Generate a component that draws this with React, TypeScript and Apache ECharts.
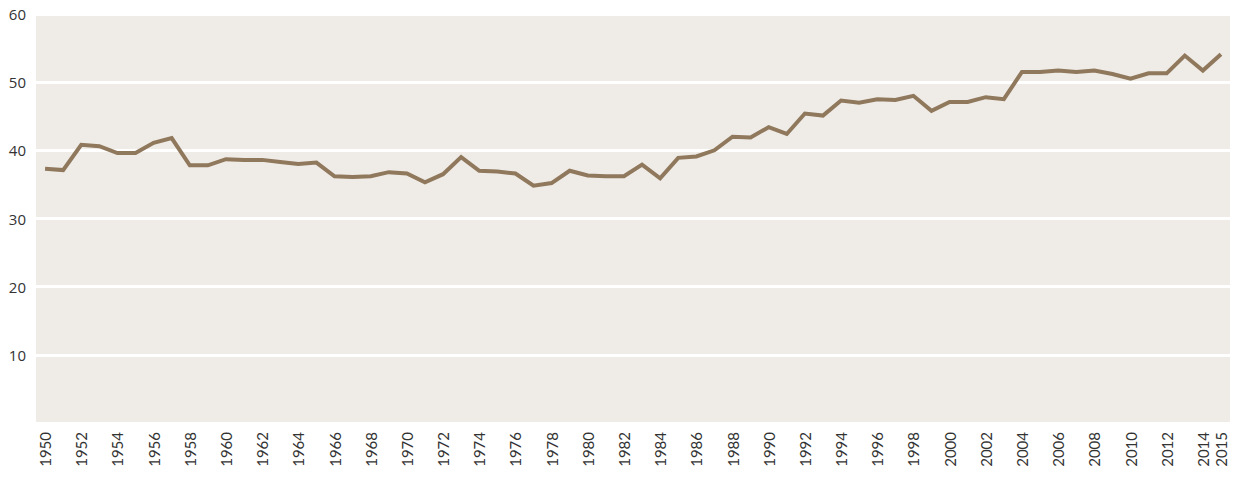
import React, { useEffect, useRef } from "react";
import * as echarts from "echarts";

const years: string[] = [];
for (let y = 1950; y <= 2015; y++) years.push(String(y));

const values: number[] = [
  37.3, 37.1, 40.8, 40.6, 39.6, 39.6, 41.1, 41.8, 37.8, 37.8,
  38.7, 38.6, 38.6, 38.3, 38.0, 38.2, 36.2, 36.1, 36.2, 36.8,
  36.6, 35.3, 36.5, 39.0, 37.0, 36.9, 36.6, 34.8, 35.2, 37.0,
  36.3, 36.2, 36.2, 37.9, 35.9, 38.9, 39.1, 40.0, 42.0, 41.9,
  43.4, 42.4, 45.4, 45.1, 47.3, 47.0, 47.5, 47.4, 48.0, 45.8,
  47.1, 47.1, 47.8, 47.5, 51.5, 51.5, 51.7, 51.5, 51.7, 51.2,
  50.5, 51.3, 51.3, 53.9, 51.7, 54.1,
];

const yTicks = [0, 10, 20, 30, 40, 50, 60];

export default function App() {
  const ref = useRef<HTMLDivElement>(null);
  useEffect(() => {
    if (!ref.current) return;
    const chart = echarts.init(ref.current, undefined, { renderer: "svg" });
    chart.setOption({
      animation: false,
      backgroundColor: "#ffffff",
      grid: {
        left: 36,
        right: 11,
        top: 14,
        bottom: 54,
        show: true,
        backgroundColor: "#efebe6",
        borderWidth: 0,
      },
      xAxis: {
        type: "category",
        data: years,
        boundaryGap: true,
        axisLine: { show: false },
        axisTick: { show: false },
        axisLabel: {
          rotate: 90,
          margin: 9,
          color: "#333333",
          fontFamily: "Lato",
          fontSize: 15,
          interval: (index: number) => index % 2 === 0 || index === years.length - 1,
        },
      },
      yAxis: {
        type: "value",
        min: yTicks[0],
        max: yTicks[yTicks.length - 1],
        interval: 10,
        axisLine: { show: false },
        axisTick: { show: false },
        axisLabel: {
          showMinLabel: false,
          margin: 10,
          color: "#333333",
          fontFamily: "Open Sans",
          fontSize: 15,
        },
        splitLine: { show: true, lineStyle: { color: "#ffffff", width: 3 } },
      },
      series: [
        {
          type: "line",
          data: values,
          symbol: "none",
          lineStyle: { color: "#8f785c", width: 4, join: "miter" },
        },
      ],
    });
    return () => chart.dispose();
  }, []);
  return (
    <div
      ref={ref}
      style={{ position: "fixed", left: 0, top: 0, width: 1241, height: 477 }}
    />
  );
}
